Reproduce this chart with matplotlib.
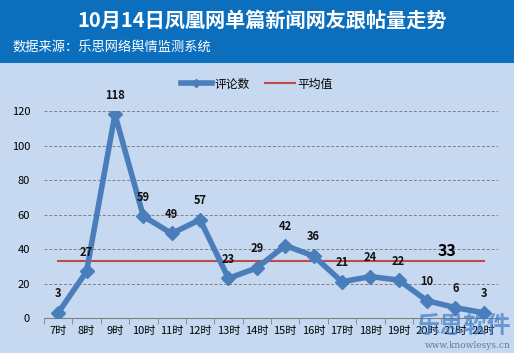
import matplotlib
matplotlib.use("Agg")
import matplotlib.pyplot as plt
from matplotlib.lines import Line2D
import numpy as np

plt.rcParams['font.family'] = ['Noto Sans CJK SC', 'DejaVu Sans']

hours = ["7时", "8时", "9时", "10时", "11时", "12时", "13时", "14时", "15时",
         "16时", "17时", "18时", "19时", "20时", "21时", "22时"]
comments = [3, 27, 118, 59, 49, 57, 23, 29, 42, 36, 21, 24, 22, 10, 6, 3]
average = 33
yticks = [0, 20, 40, 60, 80, 100, 120]

title = "10月14日凤凰网单篇新闻网友跟帖量走势"
subtitle = "数据来源：乐思网络舆情监测系统"

W, H = 514, 353
fig = plt.figure(figsize=(W / 100, H / 100), dpi=100)
fig.patch.set_facecolor("#C6D9F0")

# header band
hdr = fig.add_axes([0, 1 - 63 / H, 1, 63 / H])
hdr.set_axis_off()
hdr.add_patch(plt.Rectangle((0, 0), 1, 1, color="#0B6FBE", transform=hdr.transAxes))
fig.text(262 / W, 1 - 20 / H, title, color="white", fontsize=14.5, fontweight="bold",
         ha="center", va="center")
fig.text(12 / W, 1 - 48 / H, subtitle, color="white", fontsize=9.5, ha="left", va="center")

ax = fig.add_axes([44 / W, 1 - 318 / H, (498 - 44) / W, (318 - 111) / H])
ax.set_facecolor("#C6D9F0")
x = np.arange(len(hours))
line_color = "#4A7EBB"
ax.plot(x, comments, color=line_color, lw=4, marker="D", ms=7, label="评论数", zorder=3)
ax.plot([x[0], x[-1]], [average, average], color="#BE4B48", lw=1.5, zorder=2)

for xi, v in zip(x, comments):
    ax.annotate(str(v), (xi, v), xytext=(0, 9), textcoords="offset points",
                ha="center", va="bottom", fontsize=8, fontweight="bold", color="#111111")
ax.text(x[-2] - 0.3, average + 1, str(average), fontsize=11.5, fontweight="bold",
        ha="center", va="bottom", color="black")

ax.set_xlim(-0.5, len(hours) - 0.5)
ax.set_ylim(0, 120)
ax.set_yticks(yticks)
ax.set_yticklabels([str(t) for t in yticks], fontsize=8)
ax.set_xticks(x)
ax.set_xticklabels(hours, fontsize=8)
ax.set_xticks(np.arange(-0.5, len(hours) + 0.5, 1), minor=True)
ax.tick_params(axis="x", which="major", length=0, pad=6)
ax.tick_params(axis="x", which="minor", length=4, color="#808080")
ax.tick_params(axis="y", length=0, pad=10)
for t in yticks[1:]:
    ax.axhline(t, color="#808080", lw=0.7, ls=(0, (3, 2)), zorder=1)
for s in ["top", "right", "left"]:
    ax.spines[s].set_visible(False)
ax.spines["bottom"].set_color("#808080")

handles = [Line2D([0], [0], color=line_color, lw=4, marker="D", ms=4),
           Line2D([0], [0], color="#BE4B48", lw=1.5)]
fig.legend(handles, ["评论数", "平均值"], loc="center", bbox_to_anchor=(257 / W, 1 - 84 / H),
           ncol=2, frameon=False, fontsize=8.5, handlelength=2.6, handletextpad=0.2,
           columnspacing=1.3)

# watermark
fig.text(511 / W, 1 - 326 / H, "乐思软件", color="#3D7CC9", alpha=0.7, fontsize=17,
         fontweight="bold", ha="right", va="center", zorder=5)
fig.text(511 / W, 1 - 346 / H, "www.knowlesys.cn", color="#5A6E8A", alpha=0.9, fontsize=6.5,
         family="DejaVu Serif", ha="right", va="center", zorder=5)

fig.savefig("out.png", dpi=100, facecolor=fig.get_facecolor())
